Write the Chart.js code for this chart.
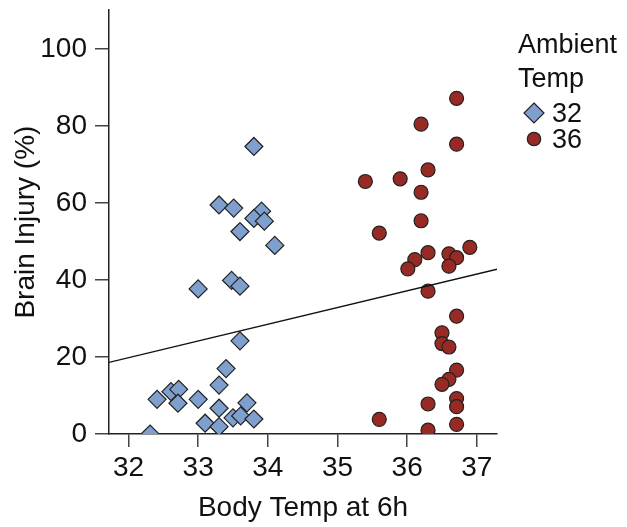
<!DOCTYPE html>
<html>
<head>
<meta charset="utf-8">
<script src="https://cdn.jsdelivr.net/npm/chart.js@4.4.0/dist/chart.umd.min.js"></script>
<style>
  html, body { margin: 0; padding: 0; background: #fff; }
  #wrap { width: 627px; height: 527px; }
</style>
</head>
<body>
<div id="wrap"><canvas id="injuryChart"></canvas></div>
<script>
// Tick values
const xTicks = [32, 33, 34, 35, 36, 37];
const yTicks = [0, 20, 40, 60, 80, 100];

// Ambient 32 group (diamonds)
const temp32X = [32.31, 32.41, 32.61, 32.72, 32.71, 33.0, 33.10, 33.30, 33.30, 33.30, 33.40, 33.60,
                 33.50, 33.61, 33.70, 33.80, 33.80, 33.30, 33.51, 33.91, 33.80, 33.95, 33.60, 34.10,
                 33.0, 33.48, 33.60];
const temp32Y = [0, 9.0, 11.0, 11.6, 8.0, 9.0, 2.8, 1.9, 6.7, 12.7, 17.0, 24.2,
                 4.2, 4.7, 8.1, 3.9, 74.7, 59.5, 58.7, 57.9, 56.0, 55.3, 52.6, 49.0,
                 37.7, 39.9, 38.4];

// Ambient 36 group (circles)
const temp36X = [36.71, 36.20, 36.71, 36.30, 35.40, 35.90, 36.20, 36.20, 35.60, 36.90, 36.30, 36.60,
                 36.71, 36.11, 36.01, 36.60, 36.30, 36.71, 36.50, 36.50, 36.60, 36.71, 36.60, 36.50,
                 36.71, 36.71, 36.30, 35.60, 36.71, 36.30];
const temp36Y = [87.2, 80.5, 75.3, 68.6, 65.6, 66.3, 62.8, 55.4, 52.2, 48.5, 47.1, 46.8,
                 45.8, 45.3, 42.9, 43.6, 37.1, 30.6, 26.3, 23.5, 22.6, 16.6, 14.2, 12.9,
                 9.2, 7.1, 7.8, 3.8, 2.5, 1.0];

// Fitted line end points
const fitX = [31.72, 37.29];
const fitY = [18.6, 42.8];

const blueFill = '#7f9fcf';
const redFill = '#972a24';
const edge = '#222222';
const fontFamily = "'Liberation Sans', Arial, Helvetica, sans-serif";

function toPoints(xs, ys) {
    return xs.map((x, i) => ({ x: x, y: ys[i] }));
}

// Legend drawn at the right, two-line title
const sideLegend = {
    id: 'sideLegend',
    afterDraw(chart) {
        const ctx = chart.ctx;
        ctx.save();
        ctx.fillStyle = '#111';
        ctx.font = '27px ' + fontFamily;
        ctx.textAlign = 'left';
        ctx.textBaseline = 'alphabetic';
        ctx.fillText('Ambient', 518, 53);
        ctx.fillText('Temp', 518, 87);

        const items = chart.data.datasets.filter(d => d.legendLabel);
        const rows = [122, 148];
        items.forEach((ds, i) => {
            const cy = rows[i] - 9;
            const cx = 534;
            ctx.beginPath();
            if (ds.pointStyle === 'rectRot') {
                const r = 10;
                ctx.moveTo(cx, cy - r);
                ctx.lineTo(cx + r, cy);
                ctx.lineTo(cx, cy + r);
                ctx.lineTo(cx - r, cy);
                ctx.closePath();
            } else {
                ctx.arc(cx, cy, 6.7, 0, Math.PI * 2);
            }
            ctx.fillStyle = ds.backgroundColor;
            ctx.fill();
            ctx.lineWidth = 1.2;
            ctx.strokeStyle = ds.borderColor;
            ctx.stroke();
            ctx.fillStyle = '#111';
            ctx.fillText(ds.legendLabel, 552, rows[i]);
        });
        ctx.restore();
    }
};

new Chart(document.getElementById('injuryChart'), {
    type: 'scatter',
    data: {
        datasets: [
            {
                type: 'line',
                data: toPoints(fitX, fitY),
                borderColor: '#111',
                borderWidth: 1.3,
                pointRadius: 0,
                fill: false
            },
            {
                legendLabel: '32',
                data: toPoints(temp32X, temp32Y),
                pointStyle: 'rectRot',
                pointRadius: 9,
                backgroundColor: blueFill,
                borderColor: edge,
                borderWidth: 1.2,
                clip: 0
            },
            {
                legendLabel: '36',
                data: toPoints(temp36X, temp36Y),
                pointStyle: 'circle',
                pointRadius: 7,
                backgroundColor: redFill,
                borderColor: edge,
                borderWidth: 1.2,
                clip: 0
            }
        ]
    },
    options: {
        responsive: true,
        maintainAspectRatio: false,
        animation: false,
        layout: { padding: { top: 0, right: 130, left: 0, bottom: 0 } },
        plugins: {
            legend: { display: false },
            tooltip: { enabled: false }
        },
        scales: {
            x: {
                type: 'linear',
                min: 31.72,
                max: 37.29,
                afterBuildTicks: scale => { scale.ticks = xTicks.map(v => ({ value: v })); },
                afterFit: scale => { scale.height = 93; scale.paddingLeft = 0; scale.paddingRight = 0; },
                border: { color: edge, width: 1.5 },
                grid: { drawOnChartArea: false, tickLength: 13, color: '#444', lineWidth: 1.5 },
                ticks: { color: '#111', padding: 4, font: { family: fontFamily, size: 28 } },
                title: {
                    display: true,
                    text: 'Body Temp at 6h',
                    color: '#111',
                    padding: { top: 0, bottom: 2 },
                    font: { family: fontFamily, size: 28 }
                }
            },
            y: {
                min: 0,
                max: 110.1,
                afterBuildTicks: scale => { scale.ticks = yTicks.map(v => ({ value: v })); },
                afterFit: scale => { scale.width = 109; scale.paddingTop = 0; scale.paddingBottom = 0; },
                border: { color: edge, width: 1.5 },
                grid: { drawOnChartArea: false, tickLength: 14, color: '#444', lineWidth: 1.5 },
                ticks: { color: '#111', padding: 8, font: { family: fontFamily, size: 28 } },
                title: {
                    display: true,
                    text: 'Brain Injury (%)',
                    color: '#111',
                    padding: { top: 9, bottom: 0 },
                    font: { family: fontFamily, size: 28 }
                }
            }
        }
    },
    plugins: [sideLegend]
});
</script>
</body>
</html>
